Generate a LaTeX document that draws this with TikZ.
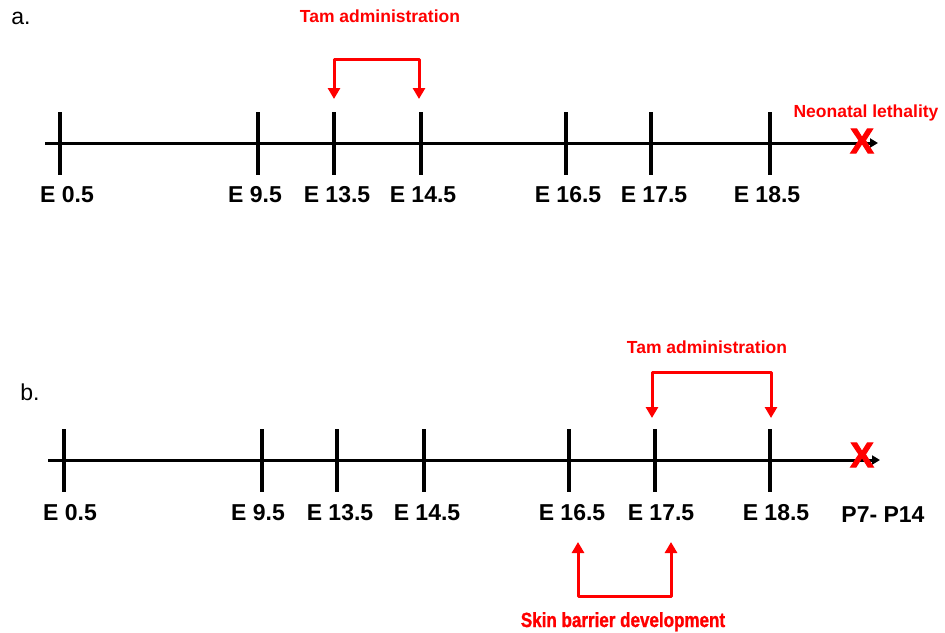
\documentclass[tikz,border=0pt]{standalone}
\usepackage{fontspec}
\setmainfont{Liberation Sans}
\newfontfamily\narrowsans[FakeStretch=0.83,FakeBold=1.2]{Liberation Sans}
\newfontfamily\heavysans[FakeBold=3]{Liberation Sans}
\usetikzlibrary{arrows.meta,positioning,calc}

\begin{document}
\begin{tikzpicture}[
  x=1pt, y=-1pt,
  axis/.style={line width=3pt, -{Triangle[width=9pt,length=8pt]}},
  tickmark/.style={line width=3.4pt},
  date/.style={font=\fontsize{23}{26}\selectfont\bfseries, inner sep=0pt},
  note/.style={text=red, font=\fontsize{17.5}{20}\selectfont\bfseries, inner sep=0pt},
  bracket/.style={draw=red, line width=3pt, line join=round, {Triangle[width=12pt,length=11pt]}-{Triangle[width=12pt,length=11pt]}},
  panel/.style={font=\fontsize{23}{26}\selectfont, inner sep=0pt},
  death/.style={text=red, font=\fontsize{35}{40}\selectfont\heavysans\bfseries, inner sep=0pt}
]
\useasboundingbox (0,0) rectangle (945,632);

% panel a
\node[panel] (pa) at (21,18) {a.};
\coordinate (startA) at (45,143);
\coordinate (endA) at (878,143);
\draw[axis] (startA) -- (endA);
\foreach \x/\lx/\lab/\nm in {60/67/E 0.5/a0, 258/255/E 9.5/a9, 334/337/E 13.5/a13, 421/423/E 14.5/a14, 566/568/E 16.5/a16, 651/654/E 17.5/a17, 770/767/E 18.5/a18}{
  \draw[tickmark] (\x,112) -- (\x,175);
  \node[date] (\nm) at (\lx,195) {\lab};
}
\node[note] (tamA) at (380,16) {Tam administration};
\coordinate (tamA1) at (334,99);
\coordinate (tamA2) at (419,99);
\draw[bracket] (tamA1) -- ++(0,-40) -| (tamA2);
\node[note, anchor=base] (lethal) at (866,117) {Neonatal lethality};
\node[death] (xA) at (862,141) {X};

% panel b
\node[panel] (pb) at (30,392) {b.};
\coordinate (startB) at (48,460);
\coordinate (endB) at (880,460);
\draw[axis] (startB) -- (endB);
\foreach \x/\lx/\lab/\nm in {64/70/E 0.5/b0, 262/258/E 9.5/b9, 337/340/E 13.5/b13, 424/427/E 14.5/b14, 569/572/E 16.5/b16, 655/661/E 17.5/b17, 770/776/E 18.5/b18}{
  \draw[tickmark] (\x,429) -- (\x,492);
  \node[date] (\nm) at (\lx,513) {\lab};
}
\node[date] (pup) at (883,515) {P7- P14};
\node[note] (tamB) at (707,347) {Tam administration};
\coordinate (tamB1) at (652,418);
\coordinate (tamB2) at (771,418);
\draw[bracket] (tamB1) -- ++(0,-46) -| (tamB2);
\node[death] (xB) at (862,455) {X};

\coordinate (skin1) at (578,542);
\coordinate (skin2) at (671,542);
\draw[bracket] (skin1) -- ++(0,54) -| (skin2);
\node[note, anchor=base, font=\fontsize{20.5}{24}\selectfont\narrowsans\bfseries] (skin) at (623,627) {Skin barrier development};
\end{tikzpicture}
\end{document}
